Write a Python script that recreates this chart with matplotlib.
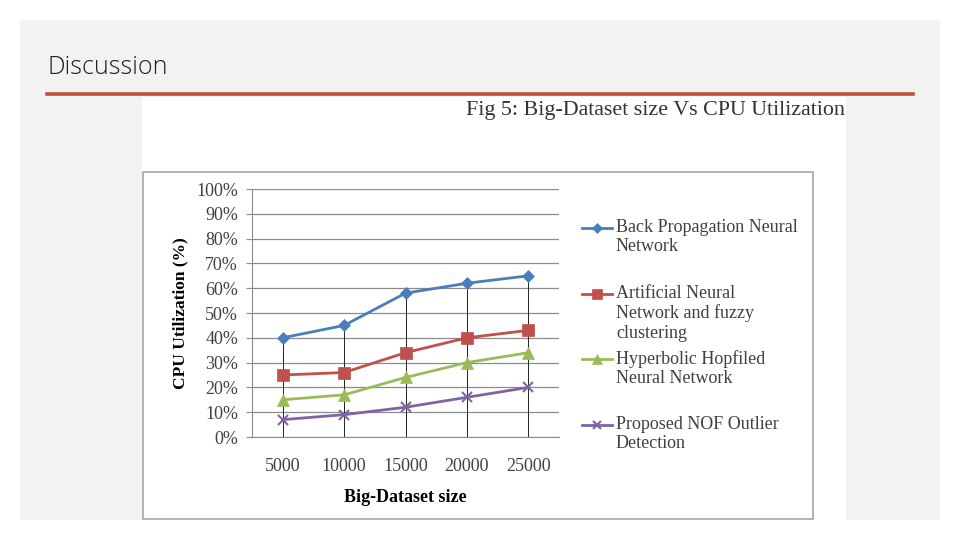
import matplotlib.pyplot as plt
from matplotlib.lines import Line2D
from matplotlib.patches import Rectangle
from matplotlib.ticker import FuncFormatter

sizes = ["5000", "10000", "15000", "20000", "25000"]
bpnn = [40, 45, 58, 62, 65]
ann_fuzzy = [25, 26, 34, 40, 43]
hhnn = [15, 17, 24, 30, 34]
nof = [7, 9, 12, 16, 20]

series = [
    ("Back Propagation Neural\nNetwork", bpnn, "#4A7EBB", "D", 6),
    ("Artificial Neural\nNetwork and fuzzy\nclustering", ann_fuzzy, "#C0504D", "s", 8),
    ("Hyperbolic Hopfiled\nNeural Network", hhnn, "#9BBB59", "^", 8),
    ("Proposed NOF Outlier\nDetection", nof, "#8064A2", "x", 7),
]

W, H = 960, 540
serif = ["Liberation Serif", "DejaVu Serif"]

fig = plt.figure(figsize=(9.6, 5.4), dpi=100)
fig.patch.set_facecolor("white")


def px(x, y, w, h):
    # pixel box (top-left origin) -> figure fraction
    return [x / W, 1 - (y + h) / H, w / W, h / H]


def rect(x, y, w, h, z=-5, **kw):
    b = px(x, y, w, h)
    fig.add_artist(Rectangle((b[0], b[1]), b[2], b[3], transform=fig.transFigure,
                             zorder=z, **kw))


# slide panel, picture area, chart frame
rect(20, 20, 920, 500, z=-6, facecolor="#F2F2F2", edgecolor="none")
rect(142, 97, 704, 423, z=-5, facecolor="white", edgecolor="none")
rect(143, 172, 670, 347, z=-4, facecolor="none", edgecolor="#A6A6A6", linewidth=1.2)
fig.add_artist(Line2D([47 / W, 913 / W], [1 - 94 / H] * 2, transform=fig.transFigure,
                      color="#BE533C", linewidth=2.6))

fig.text(48 / W, 1 - 67 / H, "Discussion", fontsize=18, family="Open Sans",
         fontweight="light", va="center", ha="left", color="#222222")
fig.text(845 / W, 1 - 111 / H, "Fig 5: Big-Dataset size Vs CPU Utilization",
         fontsize=15.8, family=serif, va="center", ha="right", color="#333333")

ax = fig.add_axes(px(252, 189, 307, 248))
ax.set_facecolor("none")
x = list(range(len(sizes)))
tops = [max(v) for v in zip(*[s[1] for s in series])]
ax.vlines(x, 0, tops, color="#222222", linewidth=0.7, zorder=1)
for label, vals, color, marker, ms in series:
    ax.plot(x, vals, color=color, marker=marker, markersize=ms, linewidth=2,
            markeredgewidth=1.5 if marker == "x" else 0.5, zorder=3)

ax.set_xlim(-0.5, len(sizes) - 0.5)
ax.set_ylim(0, 100)
ax.set_yticks(range(0, 101, 10))
ax.yaxis.set_major_formatter(FuncFormatter(lambda v, p: f"{int(v)}%"))
ax.set_xticks(x)
ax.set_xticklabels(sizes)
ax.grid(axis="y", color="#8C8C8C", linewidth=0.9)
ax.set_axisbelow(True)
for s in ["top", "right"]:
    ax.spines[s].set_visible(False)
ax.spines["left"].set_color("#8C8C8C")
ax.spines["bottom"].set_color("#8C8C8C")
ax.tick_params(axis="y", length=4, color="#8C8C8C", labelsize=13, pad=6, labelcolor="#404040")
ax.tick_params(axis="x", length=0, labelsize=13, pad=15, labelcolor="#404040")
for t in ax.get_xticklabels() + ax.get_yticklabels():
    t.set_family(serif)
ax.set_xlabel("Big-Dataset size", family=serif, fontsize=13, fontweight="bold", labelpad=10)
ax.set_ylabel("CPU Utilization (%)", family=serif, fontsize=12.5, fontweight="bold", labelpad=6)

# legend drawn by hand so the handle sits on the first text line
legend_y = [228, 294, 359, 425]
for (label, vals, color, marker, ms), ly in zip(series, legend_y):
    yf = 1 - ly / H
    fig.add_artist(Line2D([582 / W, 612 / W], [yf, yf], transform=fig.transFigure,
                          color=color, linewidth=2))
    fig.add_artist(Line2D([597 / W], [yf], transform=fig.transFigure, color=color,
                          marker=marker, markersize=ms - 1,
                          markeredgewidth=1.5 if marker == "x" else 0.5))
    fig.text(616 / W, yf + 9 / H, label, family=serif, fontsize=13, va="top", ha="left",
             color="#404040", linespacing=1.18)

fig.savefig("out.png", dpi=100)
